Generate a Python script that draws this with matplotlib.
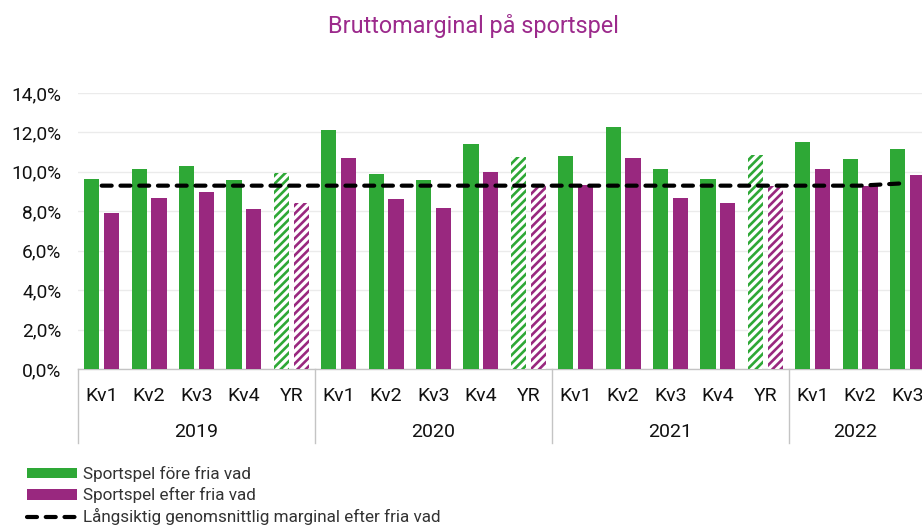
import matplotlib

matplotlib.use("Agg")
import matplotlib.pyplot as plt
import matplotlib.transforms as mtransforms
from matplotlib.lines import Line2D
from matplotlib.patches import Patch
from matplotlib.ticker import FuncFormatter, MultipleLocator

plt.rcParams["font.family"] = ["Roboto", "DejaVu Sans"]
plt.rcParams["hatch.linewidth"] = 1.9

# Data (percent)
quarters = ["Kv1", "Kv2", "Kv3", "Kv4", "YR",
            "Kv1", "Kv2", "Kv3", "Kv4", "YR",
            "Kv1", "Kv2", "Kv3", "Kv4", "YR",
            "Kv1", "Kv2", "Kv3"]
years = ["2019", "2020", "2021", "2022"]
before_free_bets = [9.66, 10.17, 10.30, 9.59, 9.93,
                    12.13, 9.90, 9.58, 11.42, 10.75,
                    10.81, 12.27, 10.14, 9.64, 10.86,
                    11.49, 10.66, 11.15]
after_free_bets = [7.93, 8.66, 8.97, 8.10, 8.41,
                   10.70, 8.64, 8.17, 9.98, 9.32,
                   9.32, 10.68, 8.66, 8.44, 9.29,
                   10.14, 9.29, 9.83]
long_term_avg = [9.30, 9.30, 9.30, 9.30, 9.30,
                 9.30, 9.30, 9.30, 9.30, 9.30,
                 9.30, 9.30, 9.30, 9.30, 9.30,
                 9.30, 9.30, 9.43]

GREEN = "#2ea836"
PURPLE = "#99287f"
TITLE = "#9c2a8c"
GRID = "#ebebeb"
AXIS = "#c4c4c4"
TEXT = "#111111"

W, H = 922, 529
fig = plt.figure(figsize=(W / 100, H / 100), dpi=100, facecolor="white")

# axes runs off the right edge, like the cropped original
left_px, right_px, top_px, bottom_px = 78, 922, 93, 369
cat_px = 47.4
ax = fig.add_axes([left_px / W, (H - bottom_px) / H,
                   (right_px - left_px) / W, (bottom_px - top_px) / H])

x = list(range(len(quarters)))
bw = 0.32
off = 0.21
for i, q in enumerate(quarters):
    if q == "YR":
        ax.bar(i - off, before_free_bets[i], bw, facecolor="white",
               edgecolor=GREEN, hatch="////", linewidth=0, zorder=3)
        ax.bar(i + off, after_free_bets[i], bw, facecolor="white",
               edgecolor=PURPLE, hatch="////", linewidth=0, zorder=3)
    else:
        ax.bar(i - off, before_free_bets[i], bw, color=GREEN, zorder=3)
        ax.bar(i + off, after_free_bets[i], bw, color=PURPLE, zorder=3)

ax.plot(x, long_term_avg, color="black", lw=3, dashes=(2.4, 2.1),
        dash_capstyle="round", zorder=4)

ax.set_xlim(-0.5, -0.5 + (right_px - left_px) / cat_px)
ax.set_ylim(0, 14)
ax.yaxis.set_major_locator(MultipleLocator(2))
ax.yaxis.set_major_formatter(
    FuncFormatter(lambda v, _: f"{v:.1f}%".replace(".", ",")))
ax.tick_params(axis="y", length=0, pad=12, labelsize=13.8, labelcolor=TEXT)
ax.set_xticks([])
ax.grid(axis="y", color=GRID, lw=1, zorder=0)
for s in ["left", "top", "right"]:
    ax.spines[s].set_visible(False)
ax.spines["bottom"].set_color(AXIS)
ax.spines["bottom"].set_linewidth(1)

# category axis: quarter labels, year labels and separators
trans = mtransforms.blended_transform_factory(ax.transData, fig.transFigure)
for i, q in enumerate(quarters):
    ax.text(i, (H - 401) / H, q, transform=trans, ha="center",
            va="baseline", fontsize=14, color=TEXT)

xmax = ax.get_xlim()[1]
for k, yr in enumerate(years):
    start = k * 5 - 0.5
    end = min(start + 5, xmax)
    ax.text((start + end) / 2, (H - 437) / H, yr, transform=trans,
            ha="center", va="baseline", fontsize=14, color=TEXT)
    ax.add_line(Line2D([start, start], [(H - bottom_px) / H, (H - 443) / H],
                       transform=trans, color=AXIS, lw=1, clip_on=False))

fig.text(0.513, (H - 33) / H, "Bruttomarginal på sportspel", ha="center",
         va="baseline", fontsize=16.8, color=TITLE)

handles = [
    Patch(facecolor=GREEN, edgecolor="none"),
    Patch(facecolor=PURPLE, edgecolor="none"),
    Line2D([0], [0], color="black", lw=3, dashes=(2.4, 2.1),
           dash_capstyle="round"),
]
labels = ["Sportspel före fria vad", "Sportspel efter fria vad",
          "Långsiktig genomsnittlig marginal efter fria vad"]
fig.legend(handles, labels, loc="upper left",
           bbox_to_anchor=(27 / W, (H - 466) / H), frameon=False,
           fontsize=12.3, labelcolor="#333333", handlelength=2.95,
           handleheight=0.6, handletextpad=0.3, labelspacing=0.3,
           borderpad=0, borderaxespad=0)

fig.savefig("out.png", dpi=100, facecolor="white")
